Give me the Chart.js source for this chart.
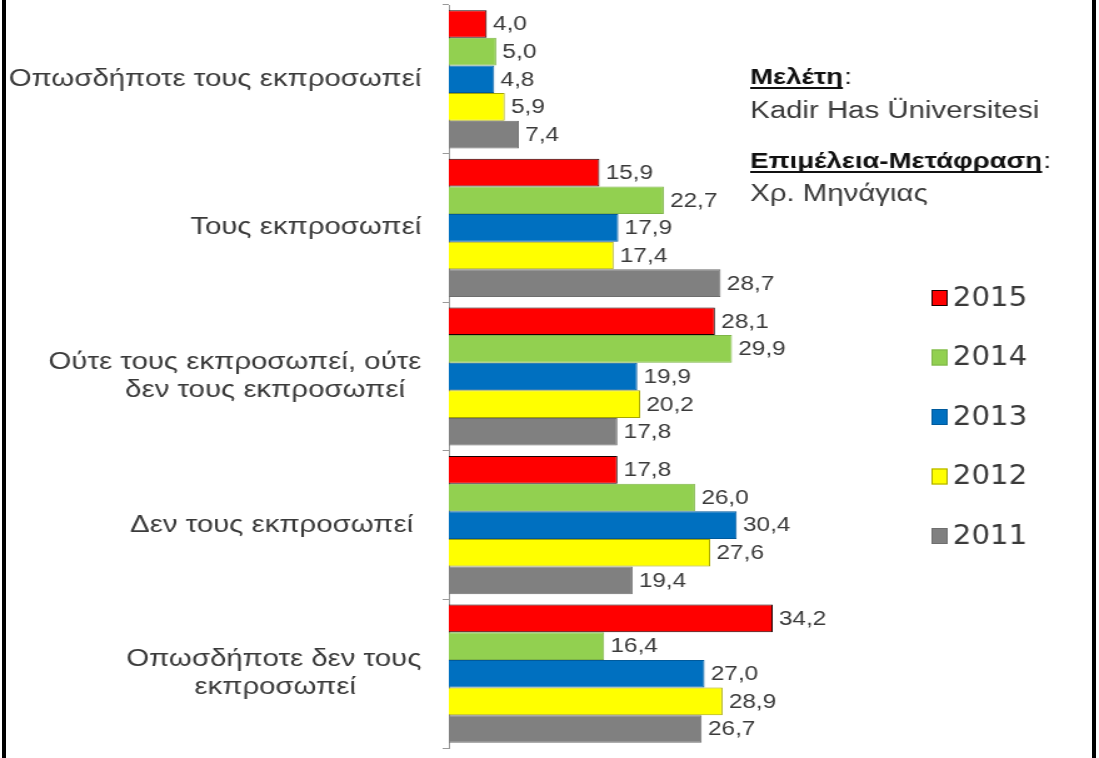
<!DOCTYPE html>
<html>
<head>
<meta charset="utf-8">
<script src="https://cdn.jsdelivr.net/npm/chart.js@4"></script>
<style>
  html, body { margin: 0; padding: 0; background: #fff; }
  #wrap { position: relative; width: 1099px; height: 758px; overflow: hidden; }
  #chart { position: absolute; left: 0; top: 0; }
  .edge { position: absolute; top: 0; width: 4px; height: 758px; background: #000; }
</style>
</head>
<body>
<div id="wrap">
  <!-- the source picture is stretched sideways, so the canvas is drawn narrow and widened -->
  <canvas id="chart" width="879" height="758" style="width:1099px;height:758px"></canvas>
  <div class="edge" style="left:2px"></div>
  <div class="edge" style="left:1092px"></div>
</div>
<script>
// categories (top to bottom)
const categories = [
  'Οπωσδήποτε τους εκπροσωπεί',
  'Τους εκπροσωπεί',
  ['Ούτε τους εκπροσωπεί, ούτε', 'δεν τους εκπροσωπεί\u00a0\u00a0'],
  'Δεν τους εκπροσωπεί\u00a0',
  ['Οπωσδήποτε δεν τους', 'εκπροσωπεί\u00a0\u00a0\u00a0\u00a0\u00a0\u00a0\u00a0\u00a0']
];

const years = ['2015', '2014', '2013', '2012', '2011'];

// percentages per year, same order as categories
const values2015 = [4.0, 15.9, 28.1, 17.8, 34.2];
const values2014 = [5.0, 22.7, 29.9, 26.0, 16.4];
const values2013 = [4.8, 17.9, 19.9, 30.4, 27.0];
const values2012 = [5.9, 17.4, 20.2, 27.6, 28.9];
const values2011 = [7.4, 28.7, 17.8, 19.4, 26.7];

const fills   = ['#ff0000', '#92d050', '#0070c0', '#ffff00', '#808080'];
const borders = ['#1a0000', '#7fb548', '#005a9c', '#a6a600', '#6e6e6e'];

const notes = [
  { text: 'Μελέτη', bold: true },
  { text: 'Kadir Has Üniversitesi', bold: false },
  { text: 'Επιμέλεια-Μετάφραση', bold: true },
  { text: 'Χρ. Μηνάγιας', bold: false }
];

const TEXT = '#3a3a3a';
const FONT = '"Liberation Sans", Arial, sans-serif';

// value labels right of each bar, with a comma decimal
const valueLabels = {
  id: 'valueLabels',
  afterDatasetsDraw(chart) {
    const ctx = chart.ctx;
    ctx.save();
    ctx.font = '19.5px ' + FONT;
    ctx.fillStyle = TEXT;
    ctx.textAlign = 'left';
    ctx.textBaseline = 'middle';
    chart.data.datasets.forEach((ds, i) => {
      chart.getDatasetMeta(i).data.forEach((bar, j) => {
        const txt = ds.data[j].toFixed(1).replace('.', ',');
        ctx.fillText(txt, bar.x + 5, bar.y + 1);
      });
    });
    ctx.restore();
  }
};

// side notes and the year legend
const sidePanel = {
  id: 'sidePanel',
  afterDraw(chart) {
    const ctx = chart.ctx;
    ctx.save();
    ctx.textBaseline = 'alphabetic';
    ctx.textAlign = 'left';
    const x = 600;
    const baselines = [84, 118, 168, 201];
    notes.forEach((n, i) => {
      ctx.font = n.bold ? 'bold 22px ' + FONT : '23.5px ' + FONT;
      ctx.fillStyle = n.bold ? '#111' : TEXT;
      ctx.fillText(n.text, x, baselines[i]);
      if (n.bold) {
        const w = ctx.measureText(n.text).width;
        ctx.fillRect(x, baselines[i] + 3, w, 2);
        ctx.font = '22px ' + FONT;
        ctx.fillText(':', x + w + 1, baselines[i]);
      }
    });

    // legend
    ctx.font = '26px "DejaVu Sans Condensed", "DejaVu Sans", sans-serif';
    ctx.textBaseline = 'middle';
    chart.data.datasets.forEach((ds, i) => {
      const cy = 298 + i * 59.5;
      ctx.fillStyle = ds.backgroundColor;
      ctx.fillRect(745, cy - 8, 13, 16);
      ctx.strokeStyle = ds.borderColor;
      ctx.lineWidth = 1;
      ctx.strokeRect(745.5, cy - 7.5, 12, 15);
      ctx.fillStyle = TEXT;
      ctx.fillText(ds.label, 762, cy + 1);
    });
    ctx.restore();
  }
};

const seriesValues = [values2015, values2014, values2013, values2012, values2011];

new Chart(document.getElementById('chart'), {
  type: 'bar',
  data: {
    labels: categories,
    datasets: years.map((y, i) => ({
      label: y,
      data: seriesValues[i],
      backgroundColor: fills[i],
      borderColor: borders[i],
      borderWidth: 1,
      barPercentage: 1.0,
      categoryPercentage: 0.93
    }))
  },
  options: {
    indexAxis: 'y',
    responsive: false,
    animation: false,
    layout: { padding: { top: 5, bottom: 10, left: 0, right: 5 } },
    plugins: {
      legend: { display: false },
      tooltip: { enabled: false }
    },
    scales: {
      x: {
        display: false,
        min: 0,
        max: 68
      },
      y: {
        afterFit: scale => {
          scale.width = 359;
          scale.paddingTop = 0;
          scale.paddingBottom = 0;
        },
        grid: {
          display: true,
          drawOnChartArea: false,
          drawTicks: true,
          tickLength: 5,
          color: '#9a9a9a'
        },
        border: { display: true, color: '#9a9a9a', width: 1 },
        ticks: {
          color: TEXT,
          padding: 17,
          font: { family: FONT, size: 23.5 }
        }
      }
    }
  },
  plugins: [valueLabels, sidePanel]
});
</script>
</body>
</html>
